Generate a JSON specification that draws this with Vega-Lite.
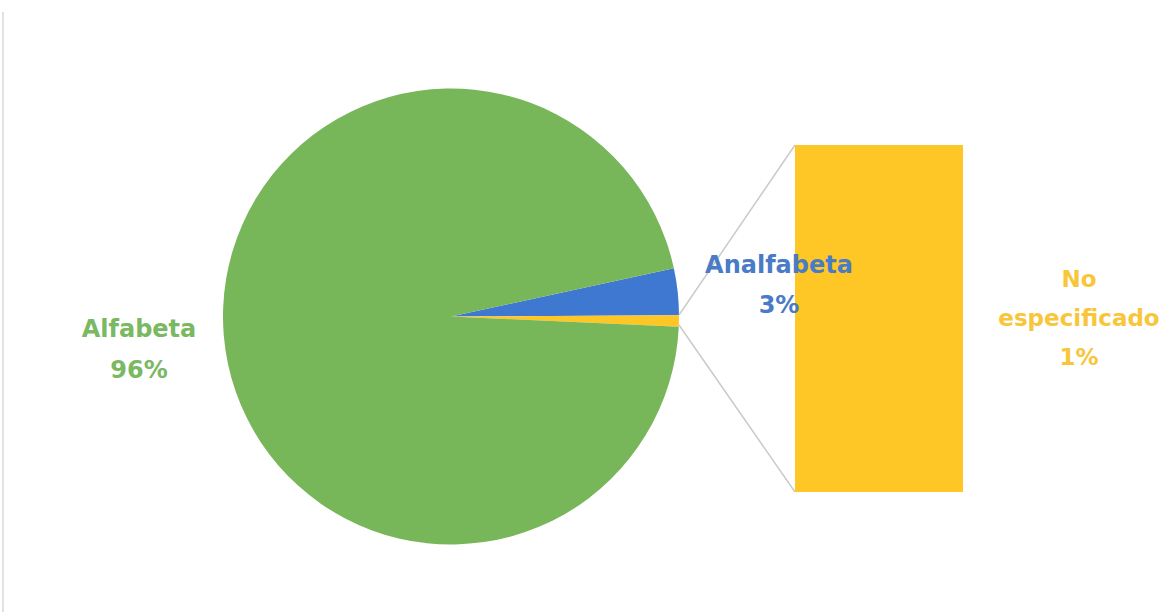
{
  "$schema": "https://vega.github.io/schema/vega-lite/v6.json",
  "width": 1169,
  "height": 616,
  "autosize": {"type": "fit", "contains": "padding"},
  "padding": 0,
  "background": "#ffffff",
  "config": {"view": {"stroke": null}},
  "data": {
    "values": [
      {"category": "Analfabeta", "value": 3.3, "order": 1, "label": "Analfabeta\n3%"},
      {"category": "No especificado", "value": 0.8, "order": 2, "label": "No\nespecificado\n1%"},
      {"category": "Alfabeta", "value": 95.9, "order": 3, "label": "Alfabeta\n96%"}
    ]
  },
  "encoding": {
    "color": {
      "field": "category",
      "type": "nominal",
      "legend": null,
      "scale": {
        "domain": ["Alfabeta", "Analfabeta", "No especificado"],
        "range": ["#78b65a", "#3f78d0", "#ffc725"]
      }
    }
  },
  "layer": [
    {
      "mark": {"type": "arc", "radius": 228, "stroke": null},
      "encoding": {
        "theta": {"field": "value", "type": "quantitative", "stack": true, "scale": {"range": [1.358, 7.641]}},
        "order": {"field": "order", "type": "quantitative"},
        "x": {"datum": 451, "type": "quantitative", "scale": {"domain": [0, 1169], "nice": false, "zero": false}, "axis": null},
        "y": {"datum": 316.5, "type": "quantitative", "scale": {"domain": [0, 616], "nice": false, "zero": false, "reverse": true}, "axis": null}
      }
    },
    {
      "transform": [{"filter": "datum.category == 'Alfabeta'"}],
      "mark": {"type": "rule", "strokeWidth": 2},
      "encoding": {
        "x": {"datum": 3, "type": "quantitative"},
        "y": {"datum": 12, "type": "quantitative"},
        "y2": {"datum": 612},
        "color": {"value": "#e2e2e2"}
      }
    },
    {
      "transform": [{"filter": "datum.category == 'No especificado'"}],
      "mark": {"type": "rule", "strokeWidth": 1.5},
      "encoding": {
        "x": {"datum": 679, "type": "quantitative"},
        "y": {"datum": 315, "type": "quantitative"},
        "x2": {"datum": 795},
        "y2": {"datum": 145},
        "color": {"value": "#cacaca"}
      }
    },
    {
      "transform": [{"filter": "datum.category == 'No especificado'"}],
      "mark": {"type": "rule", "strokeWidth": 1.5},
      "encoding": {
        "x": {"datum": 679, "type": "quantitative"},
        "y": {"datum": 325, "type": "quantitative"},
        "x2": {"datum": 795},
        "y2": {"datum": 492},
        "color": {"value": "#cacaca"}
      }
    },
    {
      "transform": [{"filter": "datum.category == 'No especificado'"}],
      "mark": {"type": "rect"},
      "encoding": {
        "x": {"datum": 795, "type": "quantitative"},
        "x2": {"datum": 963},
        "y": {"datum": 145, "type": "quantitative"},
        "y2": {"datum": 492}
      }
    },
    {
      "transform": [{"filter": "datum.category == 'Alfabeta'"}],
      "mark": {"type": "text", "lineBreak": "\n", "font": "DejaVu Sans", "fontSize": 24, "fontWeight": "bold", "align": "center", "baseline": "alphabetic", "lineHeight": 41},
      "encoding": {
        "x": {"datum": 139, "type": "quantitative"},
        "y": {"datum": 337, "type": "quantitative"},
        "text": {"field": "label"},
        "color": {"value": "#7ab862"}
      }
    },
    {
      "transform": [{"filter": "datum.category == 'Analfabeta'"}],
      "mark": {"type": "text", "lineBreak": "\n", "font": "DejaVu Sans", "fontSize": 24, "fontWeight": "bold", "align": "center", "baseline": "alphabetic", "lineHeight": 40},
      "encoding": {
        "x": {"datum": 779, "type": "quantitative"},
        "y": {"datum": 273, "type": "quantitative"},
        "text": {"field": "label"},
        "color": {"value": "#4a7bc6"}
      }
    },
    {
      "transform": [{"filter": "datum.category == 'No especificado'"}],
      "mark": {"type": "text", "lineBreak": "\n", "font": "DejaVu Sans", "fontSize": 23, "fontWeight": "bold", "align": "center", "baseline": "alphabetic", "lineHeight": 39},
      "encoding": {
        "x": {"datum": 1079, "type": "quantitative"},
        "y": {"datum": 287, "type": "quantitative"},
        "text": {"field": "label"},
        "color": {"value": "#f8c63a"}
      }
    }
  ]
}
